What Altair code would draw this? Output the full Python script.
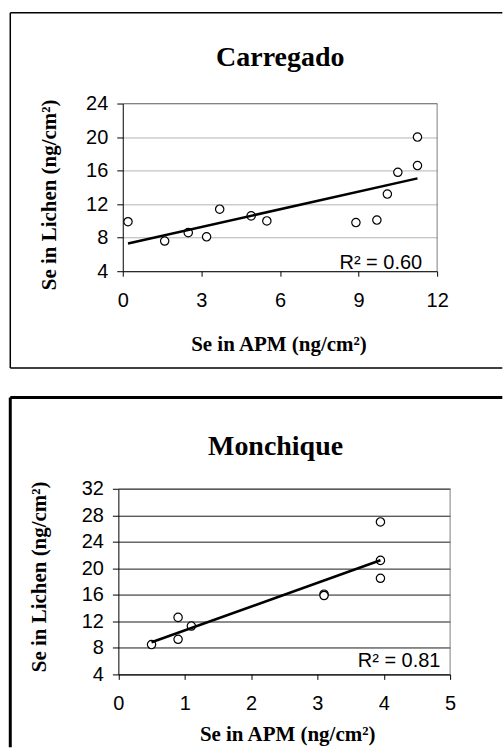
import altair as alt
import pandas as pd

# Se in atmospheric particulate matter (APM) vs. Se in lichen, two sites
carregado_apm = [0.2, 1.6, 2.5, 3.2, 3.7, 4.9, 5.5, 8.9, 9.7, 10.1, 10.5, 11.25, 11.25]
carregado_lichen = [9.9, 7.6, 8.6, 8.1, 11.4, 10.6, 10.0, 9.8, 10.1, 13.2, 15.8, 16.6, 20.0]
carregado_r2 = "0.60"
carregado_xticks = [0, 3, 6, 9, 12]
carregado_yticks = [4, 8, 12, 16, 20, 24]

monchique_apm = [0.5, 0.9, 0.9, 1.1, 3.1, 3.1, 3.95, 3.95, 3.95]
monchique_lichen = [8.5, 12.6, 9.3, 11.3, 16.1, 15.9, 27.0, 21.2, 18.5]
monchique_r2 = "0.81"
monchique_xticks = [0, 1, 2, 3, 4, 5]
monchique_yticks = [4, 8, 12, 16, 20, 24, 28, 32]

X_TITLE = "Se in APM (ng/cm²)"
Y_TITLE = "Se in Lichen (ng/cm²)"
SERIF = "Liberation Serif"
SANS = "Liberation Sans"
BORDER_GRAY = "#808080"


def one_row():
    return alt.Chart(pd.DataFrame({"k": [0]}))


def panel(name, apm, lichen, r2, xticks, yticks, width, height, x_range,
          y_offset, grid_color, title_xy, r2_xy, xtitle_xy, ytitle_xy, frame):
    df = pd.DataFrame({"apm": apm, "lichen": lichen})

    x_scale = alt.Scale(domain=[xticks[0], xticks[-1]], range=x_range,
                        nice=False, zero=False)
    y_scale = alt.Scale(domain=[yticks[0], yticks[-1]], nice=False, zero=False)

    x_axis = alt.Axis(
        values=xticks, tickCount=len(xticks), format="d", grid=False,
        domainColor="black", domainWidth=1,
        tickColor="black", tickSize=5, tickWidth=1,
        labelFont=SANS, labelFontSize=20, labelColor="black", labelPadding=14,
        labelFlush=False, labelOverlap=False, labelBound=False,
        title=X_TITLE, titleFont=SERIF, titleFontWeight="bold", titleFontSize=21,
        titleColor="black", titleAlign="center", titleBaseline="alphabetic",
        titleX=xtitle_xy[0], titleY=xtitle_xy[1],
    )
    y_axis = alt.Axis(
        values=yticks, tickCount=len(yticks), format="d", grid=True,
        gridColor=grid_color, gridWidth=1, gridOpacity=1,
        domainColor="black", domainWidth=1,
        tickColor="black", tickSize=6, tickWidth=1, offset=y_offset,
        labelFont=SANS, labelFontSize=20, labelColor="black", labelPadding=9,
        labelFlush=False, labelOverlap=False, labelBound=False,
        title=Y_TITLE, titleFont=SERIF, titleFontWeight="bold", titleFontSize=21,
        titleColor="black", titleAngle=270, titleAlign="center",
        titleBaseline="alphabetic",
        titleX=ytitle_xy[0], titleY=ytitle_xy[1],
    )

    points = alt.Chart(df).mark_point(
        shape="circle", size=70, filled=True, fill="white",
        stroke="black", strokeWidth=1.2, opacity=1,
    ).encode(
        x=alt.X("apm:Q", scale=x_scale, axis=x_axis),
        y=alt.Y("lichen:Q", scale=y_scale, axis=y_axis),
    )

    trend = alt.Chart(df).transform_regression(
        "apm", "lichen", method="linear"
    ).mark_line(color="black", strokeWidth=2.5).encode(
        x="apm:Q", y="lichen:Q"
    )

    # gray top and right edges of the plot area
    top_edge = one_row().mark_rule(color=BORDER_GRAY, strokeWidth=1).encode(
        x=alt.datum(xticks[0]), x2=alt.datum(xticks[-1]), y=alt.datum(yticks[-1])
    )
    right_edge = one_row().mark_rule(color=BORDER_GRAY, strokeWidth=1).encode(
        x=alt.datum(xticks[-1]), y=alt.datum(yticks[0]), y2=alt.datum(yticks[-1])
    )

    r2_label = one_row().mark_text(
        text=f"R² = {r2}", align="right", baseline="alphabetic",
        font=SANS, fontSize=20, color="black",
    ).encode(x=alt.value(r2_xy[0]), y=alt.value(r2_xy[1]))

    title = one_row().mark_text(
        text=name, align="center", baseline="alphabetic",
        font=SERIF, fontSize=28, fontWeight="bold", color="black",
    ).encode(x=alt.value(title_xy[0]), y=alt.value(title_xy[1]))

    frame_layers = []
    for (x1, y1, x2, y2, sw) in frame:
        enc = {"x": alt.value(x1), "y": alt.value(y1)}
        if x2 != x1:
            enc["x2"] = alt.value(x2)
        if y2 != y1:
            enc["y2"] = alt.value(y2)
        frame_layers.append(
            one_row().mark_rule(color="black", strokeWidth=sw).encode(**enc)
        )

    return alt.layer(
        points, top_edge, right_edge, trend, r2_label, title, *frame_layers
    ).properties(width=width, height=height)


top = panel(
    "Carregado", carregado_apm, carregado_lichen, carregado_r2,
    carregado_xticks, carregado_yticks,
    width=315, height=168, x_range=[0, 315], y_offset=0,
    grid_color="#b4b4b4",
    title_xy=(157.8, -37.5), r2_xy=(300, 165.3),
    xtitle_xy=(156, 79), ytitle_xy=(-67.5, 91),
    frame=[
        (-112.7, -91, 380.3, -91, 1.5),
        (-112.7, -91, -112.7, 265, 1.5),
        (-112.7, 265, 380.3, 265, 1.5),
    ],
)

bottom = panel(
    "Monchique", monchique_apm, monchique_lichen, monchique_r2,
    monchique_xticks, monchique_yticks,
    width=328, height=186, x_range=[-4.4, 328], y_offset=4.4,
    grid_color="#1a1a1a",
    title_xy=(153.1, -34), r2_xy=(318.3, 178.3),
    xtitle_xy=(164.7, 66), ytitle_xy=(-73, 87.7),
    frame=[
        (-112.7, -91.5, 380.3, -91.5, 3),
        (-112.7, -91.5, -112.7, 259, 3),
    ],
)

chart = alt.vconcat(top, bottom, spacing=27).properties(
    padding={"left": 8, "top": 11, "right": 0, "bottom": 0}
).configure_view(stroke=None)

chart.save("out.html", embed_options={"renderer": "svg", "actions": False})
